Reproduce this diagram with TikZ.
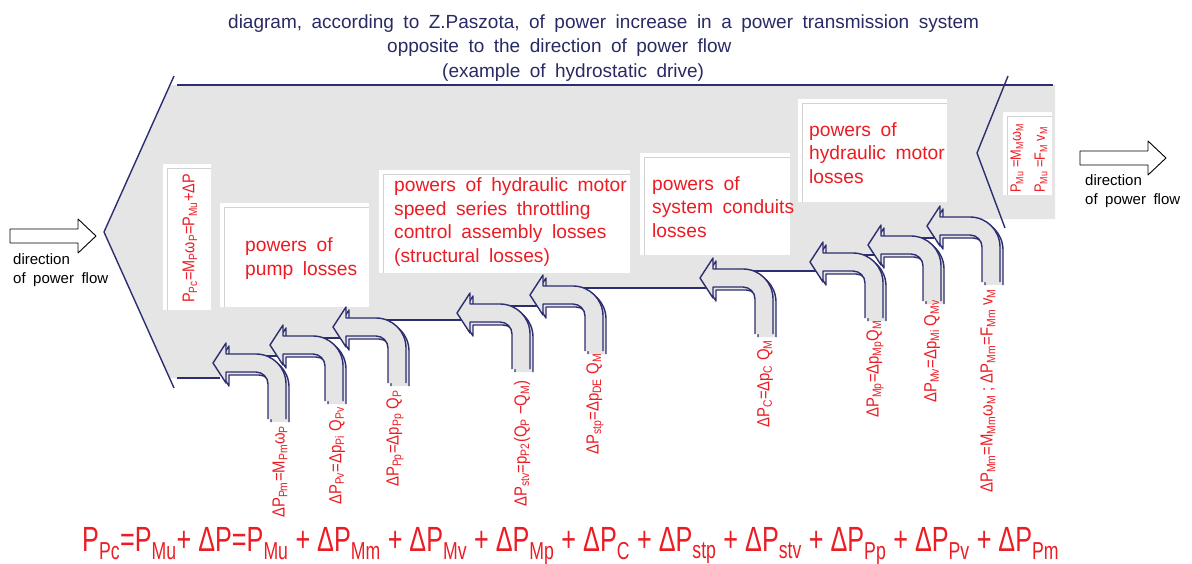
\documentclass[tikz,border=0pt]{standalone}
\usepackage{fontspec}
\setmainfont{Liberation Sans}[WordSpace=1.8]
\newfontfamily\lblfont{Liberation Sans}[FakeStretch=0.85]
\newfontfamily\eqfont{Liberation Sans}[FakeStretch=0.72]
\usetikzlibrary{positioning}

\definecolor{navy}{RGB}{44,46,112}
\definecolor{titleblue}{RGB}{40,42,100}
\definecolor{lossred}{RGB}{236,28,36}
\definecolor{bodygray}{RGB}{229,229,229}

\begin{document}
\begin{tikzpicture}[x=1pt,y=-1pt,line join=round,
    outline/.style={draw=navy,line width=1.4pt},
    box line/.style={draw=gray!35,line width=0.7pt},
    title text/.style={text=titleblue,font=\fontsize{19}{24}\selectfont,anchor=base west,inner sep=0pt},
    box text/.style={text=lossred,font=\fontsize{19.2}{23.5}\selectfont,align=left,anchor=base west,inner sep=0pt},
    flow text/.style={font=\fontsize{15}{19}\selectfont,align=left,anchor=base west,inner sep=0pt},
    loss label/.style={text=lossred,font=\lblfont\fontsize{17.5}{18}\selectfont,rotate=90,anchor=west,inner sep=0pt},
    flow arrow/.pic={\draw[line width=0.9pt,fill=white] (0,0) -- (-18,-17) -- (-18,-7) -- (-86,-7) -- (-86,7) -- (-18,7) -- (-18,17) -- cycle;},
    loss arrow/.pic={
      \foreach \s in {3,0}
        \draw[outline,fill=bodygray,shift={(\s,\s)}] (55,56) -- (55,21) .. controls (55,14.4) and (49.6,9) .. (43,9)
          -- (13,9) -- (13,20) -- (0,0) -- (13,-20) -- (13,-9) -- (43,-9)
          .. controls (59.6,-9) and (73,4.4) .. (73,21) -- (73,56);
    }]
  \useasboundingbox (0,0) rectangle (1192,563);

  % title
  \node[title text] (title1) at (228,28) {diagram, according to Z.Paszota, of power increase in a power transmission system};
  \node[title text] (title2) at (387,52) {opposite to the direction of power flow};
  \node[title text] (title3) at (442,77) {(example of hydrostatic drive)};

  % body of the power stream
  \fill[bodygray] (170,85) -- (104,232) -- (170,378) -- (220,378) -- (220,356) -- (277,356) -- (277,338)
    -- (340,338) -- (340,320) -- (464,320) -- (464,306) -- (537,306) -- (537,288) -- (707,288) -- (707,271)
    -- (817,271) -- (817,255) -- (875,255) -- (875,238) -- (934,238) -- (934,219) -- (1055,219) -- (1055,85) -- cycle;
  \draw[outline] (174,76) -- (104,232) -- (174,388);
  \draw[outline] (177,85) -- (1053,85);
  \draw[outline] (1008,76) -- (977,153) -- (1005,228);
  \foreach \a/\b/\y in {177/220/378, 220/277/356, 277/340/338, 340/464/320, 464/537/306,
                        537/707/288, 707/817/271, 817/875/255, 875/934/238}
    \draw[outline] (\a,\y) -- (\b,\y);

  % white boxes
  \foreach \a/\b/\c/\d in {163/164/211/310, 220/203/369/307, 379/170/630/273,
                           640/153/790/255, 798/99/947/202, 1003/112/1052/195} {
    \fill[white] (\a,\b) rectangle (\c,\d);
    \draw[box line] (\a+4,\d) -- (\a+4,\b+4) -- (\c,\b+4);
  }

  \node[box text] (pump) at (245,275) {powers of\\pump losses};
  \node[box text] (throttle) at (394,262) {powers of hydraulic motor\\speed series throttling\\control assembly losses\\(structural losses)};
  \node[box text] (conduits) at (652,237) {powers of\\system conduits\\losses};
  \node[box text] (motor) at (809,183) {powers of\\hydraulic motor\\losses};

  \node[loss label,font=\lblfont\fontsize{17}{18}\selectfont] (pcin) at (190,303) {P\textsubscript{Pc}=M\textsubscript{P}ω\textsubscript{P}=P\textsubscript{Mu}+ΔP};
  \node[loss label,font=\lblfont\fontsize{15}{18}\selectfont] (muout1) at (1017,193) {P\textsubscript{Mu} =M\textsubscript{M}ω\textsubscript{M}};
  \node[loss label,font=\lblfont\fontsize{15}{18}\selectfont] (muout2) at (1041,193) {P\textsubscript{Mu} =F\textsubscript{M} v\textsubscript{M}};

  % direction of power flow
  \pic at (96,236) {flow arrow};
  \pic at (1166,158) {flow arrow};
  \node[flow text] (flowin) at (13,283) {direction\\of power flow};
  \node[flow text] (flowout) at (1085,204) {direction\\of power flow};

  % loss streams
  \foreach \x/\y in {213/363, 270/345, 333/327, 457/313, 530/295, 700/278, 810/262, 868/245, 927/226}
    \pic at (\x,\y) {loss arrow};

  \node[loss label] (pm) at (280,518) {ΔP\textsubscript{Pm}=M\textsubscript{Pm}ω\textsubscript{P}};
  \node[loss label] (pv) at (337,505) {ΔP\textsubscript{Pv}=Δp\textsubscript{Pi} Q\textsubscript{Pv}};
  \node[loss label] (pp) at (395,487) {ΔP\textsubscript{Pp}=Δp\textsubscript{Pp} Q\textsubscript{P}};
  \node[loss label] (stv) at (522,507) {ΔP\textsubscript{stv}=p\textsubscript{P2}(Q\textsubscript{P} −Q\textsubscript{M})};
  \node[loss label] (stp) at (595,455) {ΔP\textsubscript{stp}=Δp\textsubscript{DE} Q\textsubscript{M}};
  \node[loss label] (c) at (765,428) {ΔP\textsubscript{C}=Δp\textsubscript{C} Q\textsubscript{M}};
  \node[loss label] (mp) at (875,418) {ΔP\textsubscript{Mp}=Δp\textsubscript{Mp}Q\textsubscript{M}};
  \node[loss label] (mv) at (932,403) {ΔP\textsubscript{Mv}=Δp\textsubscript{Mi} Q\textsubscript{Mv}};
  \node[loss label] (mm) at (988,493) {ΔP\textsubscript{Mm}=M\textsubscript{Mm}ω\textsubscript{M} ; ΔP\textsubscript{Mm}=F\textsubscript{Mm} v\textsubscript{M}};

  % power balance
  \node[text=lossred,font=\eqfont\fontsize{35}{40}\selectfont,anchor=base west,inner sep=0pt] (balance) at (82,551)
    {P\textsubscript{Pc}=P\textsubscript{Mu}+ ΔP=P\textsubscript{Mu} + ΔP\textsubscript{Mm} + ΔP\textsubscript{Mv} + ΔP\textsubscript{Mp} + ΔP\textsubscript{C} + ΔP\textsubscript{stp} + ΔP\textsubscript{stv} + ΔP\textsubscript{Pp} + ΔP\textsubscript{Pv} + ΔP\textsubscript{Pm}};
\end{tikzpicture}
\end{document}
